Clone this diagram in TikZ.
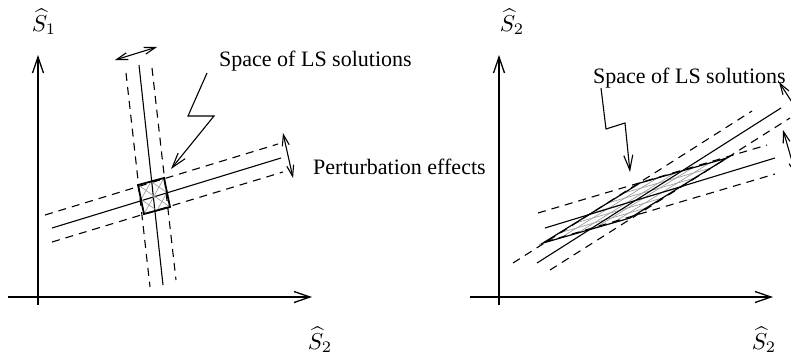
\documentclass[tikz,border=0pt]{standalone}
\usepackage{fontspec}
\setmainfont{Liberation Serif}
\usetikzlibrary{arrows.meta,calc}
\begin{document}
\begin{tikzpicture}[x=1pt,y=-1pt,
  thinline/.style={line width=1.1pt},
  dashline/.style={line width=1.1pt, dash pattern=on 8pt off 6pt},
  axis/.style={line width=2.6pt, -{Straight Barb[length=16pt,width=11pt,line width=1.3pt]}},
  dbl/.style={line width=1.1pt, {Straight Barb[length=11pt,width=7pt]}-{Straight Barb[length=11pt,width=7pt]}},
  bolt/.style={line width=1.1pt, -{Straight Barb[length=15pt,width=9pt]}},
  lbl/.style={font=\fontsize{22}{26}\selectfont, inner sep=0pt},
  mlbl/.style={inner sep=0pt, scale=2.3, transform shape},
  hatch/.style={gray!75, line width=0.7pt}]
\useasboundingbox (0,0) rectangle (791,362);
\clip (0,0) rectangle (791,362);

% ---------- left panel ----------
\coordinate (LvB) at (38,305); \coordinate (LvT) at (38,55);
\coordinate (LhL) at (8,297);  \coordinate (LhR) at (312,297);
\draw[axis] (LvB) -- (LvT);
\draw[axis] (LhL) -- (LhR);

\coordinate (a1) at (139,65);  \coordinate (a2) at (163,285);
\coordinate (b1) at (126,73);  \coordinate (b2) at (150,287);
\coordinate (c1) at (152,68);  \coordinate (c2) at (176,280);
\draw[thinline] (a1) -- (a2);
\draw[dashline] (b1) -- (b2);
\draw[dashline] (c1) -- (c2);

\coordinate (d1) at (52,228);  \coordinate (d2) at (281,158);
\coordinate (e1) at (45,215);  \coordinate (e2) at (278,144);
\coordinate (f1) at (52,242);  \coordinate (f2) at (283,172);
\draw[thinline] (d1) -- (d2);
\draw[dashline] (e1) -- (e2);
\draw[dashline] (f1) -- (f2);

\begin{scope}[shift={(138pt,-185pt)}, x={(26pt,7pt)}, y={(6pt,-29pt)}]
  \foreach \r in {0,0.5}{
    \draw[hatch] (0,\r) -- (0.5,\r+0.5);
    \draw[hatch] (0.5,\r) -- (0,\r+0.5);
    \draw[hatch] (0.5,\r) -- (1,\r+0.5);
    \draw[hatch] (1,\r) -- (0.5,\r+0.5);
  }
  \draw[line width=1.8pt] (0,0) -- (1,0) -- (1,1) -- (0,1) -- cycle;
\end{scope}

\coordinate (LA1) at (115,60); \coordinate (LA2) at (157,47);
\draw[dbl] (LA1) -- (LA2);
\coordinate (LB1) at (283,133); \coordinate (LB2) at (293,178);
\draw[dbl] (LB1) -- (LB2);

\coordinate (z1) at (207,73); \coordinate (z2) at (188,116);
\coordinate (z3) at (214,116); \coordinate (z4) at (171,169);
\draw[bolt] (z1) -- (z2) -- (z3) -- (z4);

\node[mlbl] (s1) at (44,22) {$\widehat{S}_1$};
\node[mlbl] (s2a) at (320,340) {$\widehat{S}_2$};
\node[lbl, anchor=base west] (sp1) at (219,66) {Space of LS solutions};
\node[lbl, anchor=base west] (pe) at (313,174) {Perturbation effects};

% ---------- right panel ----------
\coordinate (RvB) at (499,305); \coordinate (RvT) at (499,55);
\coordinate (RhL) at (470,297); \coordinate (RhR) at (773,297);
\draw[axis] (RvB) -- (RvT);
\draw[axis] (RhL) -- (RhR);

\begin{scope}[shift={(543pt,-243pt)}, x={(97pt,60pt)}, y={(87pt,25pt)}]
  \foreach \u in {0.167,0.333,0.5,0.667,0.833}{ \draw[hatch] (\u,0) -- (\u,1); }
  \foreach \v in {0.2,0.4,0.6,0.8}{ \draw[hatch] (0,\v) -- (1,\v); }
  \draw[line width=1.2pt] (0,0) -- (1,0) -- (1,1) -- (0,1) -- cycle;
\end{scope}

\coordinate (g1) at (537,263); \coordinate (g2) at (781,108);
\coordinate (h1) at (513,263); \coordinate (h2) at (752,111);
\coordinate (k1) at (550,270); \coordinate (k2) at (790,118);
\draw[thinline] (g1) -- (g2);
\draw[dashline] (h1) -- (h2);
\draw[dashline] (k1) -- (k2);

\coordinate (m1) at (545,228); \coordinate (m2) at (775,158);
\coordinate (n1) at (538,213); \coordinate (n2) at (767,145);
\coordinate (p1) at (545,242); \coordinate (p2) at (775,174);
\draw[thinline] (m1) -- (m2);
\draw[dashline] (n1) -- (n2);
\draw[dashline] (p1) -- (p2);

\coordinate (RA1) at (779,82); \coordinate (RA2) at (806,124);
\draw[dbl] (RA1) -- (RA2);
\coordinate (RB1) at (783,130); \coordinate (RB2) at (796,175);
\draw[dbl] (RB1) -- (RB2);

\coordinate (y1) at (601,88); \coordinate (y2) at (606,129);
\coordinate (y3) at (625,123); \coordinate (y4) at (630,172);
\draw[bolt] (y1) -- (y2) -- (y3) -- (y4);

\node[mlbl] (s2b) at (512,22) {$\widehat{S}_2$};
\node[mlbl] (s2c) at (764,340) {$\widehat{S}_2$};
\node[lbl, anchor=base west] (sp2) at (593,83) {Space of LS solutions};
\end{tikzpicture}
\end{document}
